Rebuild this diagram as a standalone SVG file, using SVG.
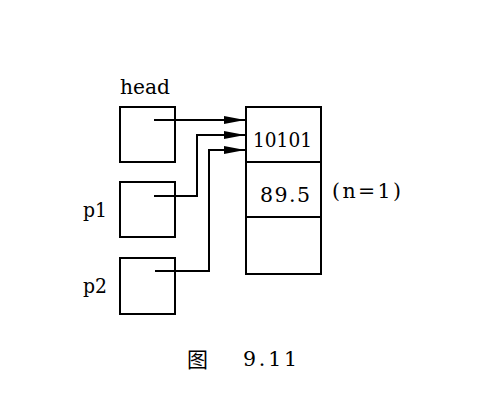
<svg xmlns="http://www.w3.org/2000/svg" width="502" height="414" viewBox="0 0 502 414">
<defs>
<marker id="arr" markerUnits="userSpaceOnUse" markerWidth="22" markerHeight="10" refX="21" refY="5" orient="auto">
<path d="M0,1 L21,5 L0,9 Z" fill="#000"/>
</marker>
</defs>
<style>
.box{fill:none;stroke:#000;stroke-width:2}
.ln{fill:none;stroke:#000;stroke-width:2}
.t{font-family:"DejaVu Serif","Liberation Serif",serif;font-size:20.5px;fill:#000}
.c{font-family:"Noto Sans CJK SC",sans-serif;font-size:21px;fill:#000}
</style>
<rect width="502" height="414" fill="#fff"/>
<g id="head">
<rect class="box" x="120" y="107" width="55" height="55"/>
<text class="t" x="120" y="94" textLength="50" lengthAdjust="spacingAndGlyphs">head</text>
</g>
<g id="p1">
<rect class="box" x="120" y="182" width="55" height="55"/>
<text class="t" x="83" y="217" textLength="24" lengthAdjust="spacingAndGlyphs">p1</text>
</g>
<g id="p2">
<rect class="box" x="120" y="258" width="55" height="56"/>
<text class="t" x="83" y="293" textLength="24" lengthAdjust="spacingAndGlyphs">p2</text>
</g>
<g id="node">
<rect class="box" x="246" y="107" width="75" height="167"/>
<line class="box" x1="246" y1="162" x2="321" y2="162"/>
<line class="box" x1="246" y1="217" x2="321" y2="217"/>
<text class="t" x="253" y="147" textLength="59" lengthAdjust="spacingAndGlyphs">10101</text>
<text class="t" x="260" y="202" textLength="50" lengthAdjust="spacing">89.5</text>
<text class="t" x="332" y="198" textLength="69" lengthAdjust="spacing">(n=1)</text>
</g>
<g id="connectors">
<path class="ln" d="M154,120 H245" marker-end="url(#arr)"/>
<path class="ln" d="M154,196 H197 V135 H245" marker-end="url(#arr)"/>
<path class="ln" d="M155,271 H209 V150 H245" marker-end="url(#arr)"/>
</g>
<g id="caption">
<text class="c" x="187" y="367">图</text>
<text class="t" x="243" y="366" textLength="54" lengthAdjust="spacing">9.11</text>
</g>
</svg>
